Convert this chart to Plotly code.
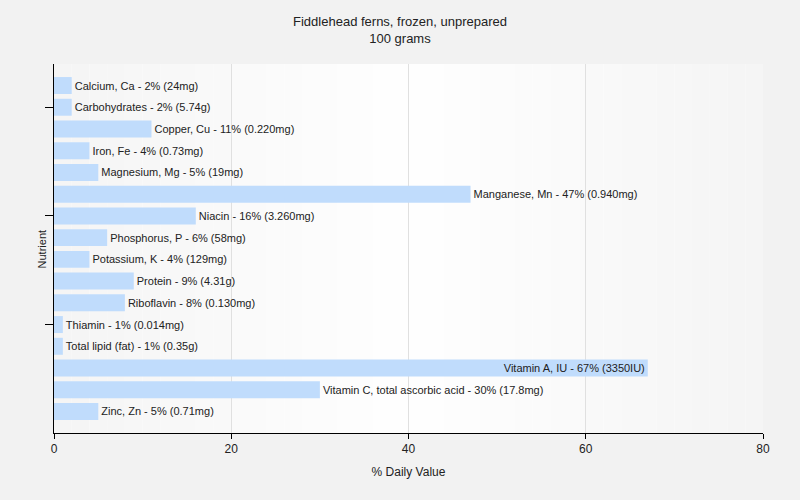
import plotly.graph_objects as go

nutrients = ["Calcium, Ca", "Carbohydrates", "Copper, Cu", "Iron, Fe", "Magnesium, Mg",
             "Manganese, Mn", "Niacin", "Phosphorus, P", "Potassium, K", "Protein",
             "Riboflavin", "Thiamin", "Total lipid (fat)", "Vitamin A, IU",
             "Vitamin C, total ascorbic acid", "Zinc, Zn"]
daily_values = [2, 2, 11, 4, 5, 47, 16, 6, 4, 9, 8, 1, 1, 67, 30, 5]
amounts = ["24mg", "5.74g", "0.220mg", "0.73mg", "19mg", "0.940mg", "3.260mg", "58mg",
           "129mg", "4.31g", "0.130mg", "0.014mg", "0.35g", "3350IU", "17.8mg", "0.71mg"]
x_ticks = [0, 20, 40, 60, 80]

labels = [f"{n} - {v}% ({a})" for n, v, a in zip(nutrients, daily_values, amounts)]
positions = ["inside" if v > 60 else "outside" for v in daily_values]
ypos = list(range(len(nutrients)))

fig = go.Figure()
fig.add_trace(go.Bar(
    y=ypos, x=daily_values, orientation="h",
    marker=dict(color="#c0dcfc", line=dict(width=0)),
    text=labels, textposition=positions, insidetextanchor="end",
    constraintext="none",
    textfont=dict(family="Liberation Sans, Arial", size=11, color="#222222"),
    cliponaxis=False, hoverinfo="skip",
))

# subtle horizontal gradient in plot background
n = 40
for i in range(n):
    t = (i + 0.5) / n
    d = abs(t - 0.5) * 2
    c = int(255 - 10 * d)
    fig.add_shape(type="rect", xref="paper", yref="paper", x0=i / n, x1=(i + 1) / n,
                  y0=0, y1=1, fillcolor=f"rgb({c},{c},{c})", line=dict(width=0), layer="below")

fig.add_annotation(text="Nutrient", xref="paper", yref="paper", x=-0.017, y=0.5,
                   xanchor="center", yanchor="middle", textangle=-90, showarrow=False,
                   font=dict(family="Liberation Sans, Arial", size=11, color="#222222"))

fig.update_layout(
    width=800, height=500,
    margin=dict(l=54, r=37, t=64, b=67),
    paper_bgcolor="#f2f2f2", plot_bgcolor="#ffffff",
    title=dict(text="Fiddlehead ferns, frozen, unprepared<br>100 grams", x=0.5, xanchor="center",
               y=0.948, yanchor="top",
               font=dict(family="Liberation Sans, Arial", size=13, color="#222222")),
    bargap=0.22, showlegend=False,
    font=dict(family="Liberation Sans, Arial", size=12, color="#222222"),
)
fig.update_xaxes(range=[0, 80], tickvals=x_ticks, showgrid=True, gridcolor="#e0e0e0",
                 showline=True, linecolor="#000000", linewidth=1, ticks="outside",
                 ticklen=5, tickcolor="#000000", zeroline=False,
                 title=dict(text="% Daily Value", font=dict(size=12), standoff=12),
                 tickfont=dict(size=12))
fig.update_yaxes(range=[15.99, -0.99], tickvals=[1, 6, 11], showticklabels=False,
                 showgrid=False, showline=True, linecolor="#000000", linewidth=1,
                 ticks="outside", ticklen=8, tickcolor="#000000", zeroline=False)

fig.write_html("out.html", config={"displayModeBar": False},
               post_script="document.body.style.margin='0';")
